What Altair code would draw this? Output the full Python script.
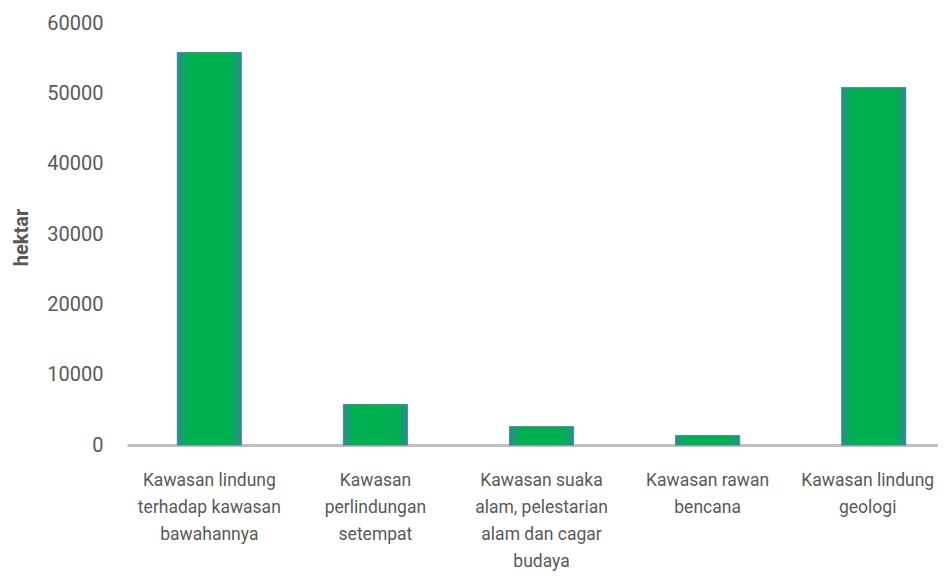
import altair as alt
import pandas as pd

# Data
category_lines = [
    ["Kawasan lindung", "terhadap kawasan", "bawahannya"],
    ["Kawasan", "perlindungan", "setempat"],
    ["Kawasan suaka", "alam, pelestarian", "alam dan cagar", "budaya"],
    ["Kawasan rawan", "bencana"],
    ["Kawasan lindung", "geologi"],
]
hektar_values = [55800, 5750, 2600, 1350, 50800]
y_ticks = [0, 10000, 20000, 30000, 40000, 50000, 60000]

df = pd.DataFrame({
    "kategori": ["\n".join(lines) for lines in category_lines],
    "hektar": hektar_values,
})
order = list(df["kategori"])

GREEN = "#00B050"
TEAL = "#2E8A8F"
TEXT = "#595959"

fill = alt.Gradient(
    gradient="linear",
    x1=0, x2=1, y1=0, y2=0,
    stops=[
        alt.GradientStop(color=TEAL, offset=0),
        alt.GradientStop(color=GREEN, offset=0.16),
        alt.GradientStop(color=GREEN, offset=0.84),
        alt.GradientStop(color=TEAL, offset=1),
    ],
)

chart = (
    alt.Chart(df)
    .mark_bar(fill=fill, stroke=TEAL, strokeWidth=1.2, strokeOpacity=0.8)
    .encode(
        x=alt.X(
            "kategori:N",
            sort=order,
            scale=alt.Scale(paddingInner=0.615, paddingOuter=0.249, align=0.609),
            axis=alt.Axis(
                title=None,
                labelAngle=0,
                labelAlign="center",
                labelBaseline="top",
                labelExpr="split(datum.label, '\\n')",
                labelFont="Roboto",
                labelFontSize=17.5,
                labelColor=TEXT,
                labelLineHeight=27,
                labelPadding=26,
                labelLimit=0,
                labelOffset={"condition": {"test": "datum.index > 0.9", "value": -6}, "value": 0},
                ticks=False,
                tickSize=0,
                domainColor="#BFBFBF",
                domainWidth=3,
                grid=False,
            ),
        ),
        y=alt.Y(
            "hektar:Q",
            scale=alt.Scale(domain=[0, 60000], nice=False),
            axis=alt.Axis(
                title="hektar",
                values=y_ticks,
                format="d",
                labelFont="Roboto",
                labelFontSize=20,
                labelColor=TEXT,
                labelPadding=24,
                ticks=False,
                tickSize=0,
                domain=False,
                grid=False,
                titleFont="Roboto",
                titleFontSize=20,
                titleFontWeight="bold",
                titleColor=TEXT,
                titleAngle=-90,
                titleAlign="center",
                titleBaseline="middle",
                titleX=-106,
                titleY=214,
            ),
        ),
    )
    .properties(
        width=811,
        height=422,
        autosize=alt.AutoSizeParams(type="none"),
        padding={"left": 119, "top": 15, "right": 0, "bottom": 128},
        background="white",
    )
    .configure_view(stroke=None)
)

chart.save("out.html", embed_options={"renderer": "svg", "actions": False})
